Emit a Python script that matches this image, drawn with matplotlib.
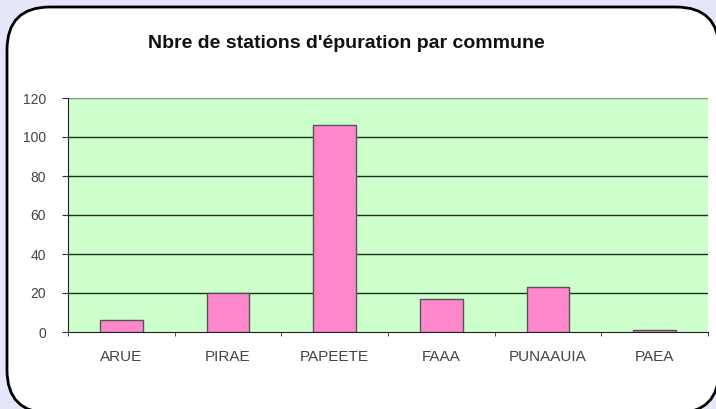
import matplotlib
matplotlib.use("Agg")
import matplotlib.pyplot as plt
from matplotlib.patches import FancyBboxPatch
import numpy as np

communes = ["ARUE", "PIRAE", "PAPEETE", "FAAA", "PUNAAUIA", "PAEA"]
stations = [6, 20, 106, 17, 23, 1]
yticks = [0, 20, 40, 60, 80, 100, 120]
title = "Nbre de stations d'épuration par commune"

plt.rcParams['font.family'] = ['Liberation Sans', 'DejaVu Sans']

W, H = 716, 409
fig = plt.figure(figsize=(W / 100, H / 100), dpi=100)
fig.patch.set_facecolor("#E6E6FA")

# rounded white frame
box = FancyBboxPatch((7 / W, (H - 413) / H), (719 - 7) / W, (413 - 7) / H,
                     boxstyle="round,pad=0,rounding_size=0.06",
                     transform=fig.transFigure, facecolor="white",
                     edgecolor="black", linewidth=2, mutation_aspect=W / H,
                     zorder=-5)
fig.patches.append(box)

ax = fig.add_axes([68 / W, (H - 332) / H, (708 - 68) / W, (332 - 98) / H])
ax.set_zorder(2)
ax.set_facecolor("#CCFFCC")
x = np.arange(len(communes))
ax.bar(x, stations, width=0.4, color="#FF88CC", edgecolor="#555555", linewidth=1, zorder=3)
ax.set_xlim(-0.5, len(communes) - 0.5)
ax.set_ylim(0, 120)
ax.set_yticks(yticks)
ax.set_yticklabels([str(v) for v in yticks], fontsize=10, color="#444444")
for v in yticks[1:-1]:
    ax.axhline(v, color="#1f2f1f", linewidth=1, zorder=2)
ax.axhline(120, color="#7a9a7a", linewidth=1, zorder=2)

ax.set_xticks(x)
ax.set_xticklabels(communes, fontsize=11, color="#444444")
ax.tick_params(axis="x", length=0, pad=13)
ax.set_xticks(np.arange(len(communes) + 1) - 0.5, minor=True)
ax.tick_params(axis="x", which="minor", length=3, color="#333333", direction="out")
ax.tick_params(axis="y", length=4, color="#333333", pad=12)

for s in ["top", "right"]:
    ax.spines[s].set_visible(False)
ax.spines["left"].set_color("#222222")
ax.spines["bottom"].set_color("#222222")

fig.text(346 / W, 1 - 43 / H, title, ha="center", va="center",
         fontsize=14, fontweight="bold", color="#111111")

fig.savefig("out.png", dpi=100, facecolor=fig.get_facecolor())
